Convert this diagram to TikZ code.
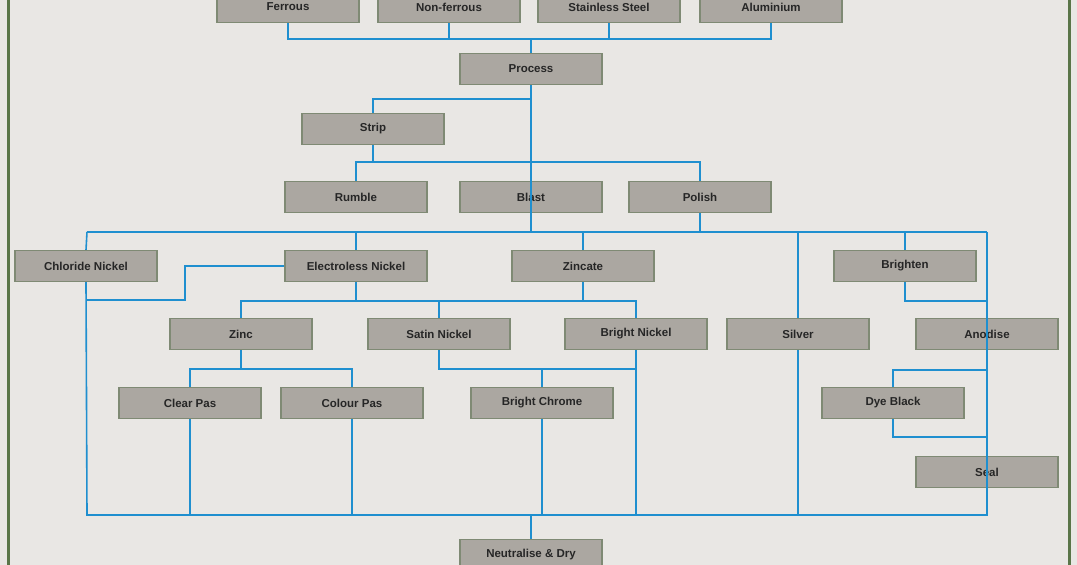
\documentclass[tikz,border=0pt]{standalone}
\usepackage{fontspec}
\setmainfont{Liberation Sans}
\begin{document}
\begin{tikzpicture}[x=1pt,y=-1pt,
  bx/.style={draw=boxedge,fill=boxfill,line width=1.2pt,minimum width=142pt,minimum height=31pt,inner sep=0pt,font=\fontsize{11.5}{13}\selectfont\bfseries,text=black!85},
  ln/.style={draw=lineblue,line width=1.6pt}]
\definecolor{boxfill}{HTML}{ABA7A1}
\definecolor{boxedge}{HTML}{7F8A74}
\definecolor{lineblue}{HTML}{1F8FCF}
\definecolor{bg}{HTML}{E9E7E4}
\definecolor{frame}{HTML}{5A7548}
\fill[bg] (0,0) rectangle (1077,565);
\useasboundingbox (0,0) rectangle (1077,565);
\draw[frame,line width=3pt] (8,-5) -- (8,570);
\draw[frame,line width=3pt] (1069,-5) -- (1069,570);
% nodes
\node[bx] (fe) at (288,7) {Ferrous};
\node[bx] (nf) at (449,7) {Non-ferrous};
\node[bx] (ss) at (609,7) {Stainless Steel};
\node[bx] (al) at (771,7) {Aluminium};
\node[bx] (pr) at (531,69) {Process};
\node[bx] (st) at (373,129) {Strip};
\node[bx] (ru) at (356,197) {Rumble};
\node[bx] (bl) at (531,197) {Blast};
\node[bx] (po) at (700,197) {Polish};
\node[bx] (cn) at (86,266) {Chloride Nickel};
\node[bx] (en) at (356,266) {Electroless Nickel};
\node[bx] (zc) at (583,266) {Zincate};
\node[bx] (br) at (905,266) {Brighten};
\node[bx] (zi) at (241,334) {Zinc};
\node[bx] (sn) at (439,334) {Satin Nickel};
\node[bx] (bn) at (636,334) {Bright Nickel};
\node[bx] (si) at (798,334) {Silver};
\node[bx] (an) at (987,334) {Anodise};
\node[bx] (cp) at (190,403) {Clear Pas};
\node[bx] (op) at (352,403) {Colour Pas};
\node[bx] (bc) at (542,403) {Bright Chrome};
\node[bx] (db) at (893,403) {Dye Black};
\node[bx] (se) at (987,472) {Seal};
\node[bx] (nd) at (531,555) {Neutralise \& Dry};
% coordinates
\coordinate (tb1) at (288,39);
\coordinate (tb2) at (771,39);
\coordinate (pm) at (531,232);
\coordinate (bL) at (87,232);
\coordinate (bR) at (987,232);
\coordinate (eL) at (87,515);
\coordinate (eR) at (987,515);
\begin{scope}[on background layer/.style={}]
\end{scope}
% connectors
\draw[ln] (fe.south) -- (tb1) -- (tb2) -- (al.south);
\draw[ln] (nf.south) -- (nf.south|-tb1);
\draw[ln] (ss.south) -- (ss.south|-tb1);
\draw[ln] (pr.north) -- (pr.north|-tb1);
\draw[ln] (pr.south) -- (pm);
\draw[ln] (531,99) -| (st.north);
\draw[ln] (st.south) -- (373,162);
\draw[ln] (ru.north) |- (531,162) -| (po.north);
\draw[ln] (bl.north) -- (531,162);
\draw[ln] (bL) -- (bR);
\draw[ln] (po.south) -- (700,232);
\draw[ln] (cn.north) -- (bL);
\draw[ln] (en.north) -- (356,232);
\draw[ln] (zc.north) -- (583,232);
\draw[ln] (br.north) -- (905,232);
\draw[ln] (cn.south) -- (eL) -- (eR) -- (bR);
\draw[ln] (en.west) -| (185,300) -- (87,300);
\draw[ln] (en.south) -- (356,301);
\draw[ln] (zi.north) |- (636,301) -- (bn.north);
\draw[ln] (zc.south) -- (583,301);
\draw[ln] (sn.north) -- (439,301);
\draw[ln] (zi.south) -- (241,369);
\draw[ln] (cp.north) |- (op.north|-0,369) -- (op.north);
\draw[ln] (sn.south) |- (636,369);
\draw[ln] (bc.north) -- (542,369);
\draw[ln] (bn.south) -- (636,515);
\draw[ln] (cp.south) -- (190,515);
\draw[ln] (op.south) -- (352,515);
\draw[ln] (bc.south) -- (542,515);
\draw[ln] (si.north) -- (798,232);
\draw[ln] (si.south) -- (798,515);
\draw[ln] (br.south) |- (987,301);
\draw[ln] (987,370) -| (db.north);
\draw[ln] (db.south) |- (987,437);
\draw[ln] (nd.north) -- (531,515);
% redraw boxes on top
\foreach \n in {fe,nf,ss,al,pr,st,ru,bl,po,cn,en,zc,br,zi,sn,bn,si,an,cp,op,bc,db,se,nd}{}
\end{tikzpicture}
\end{document}
